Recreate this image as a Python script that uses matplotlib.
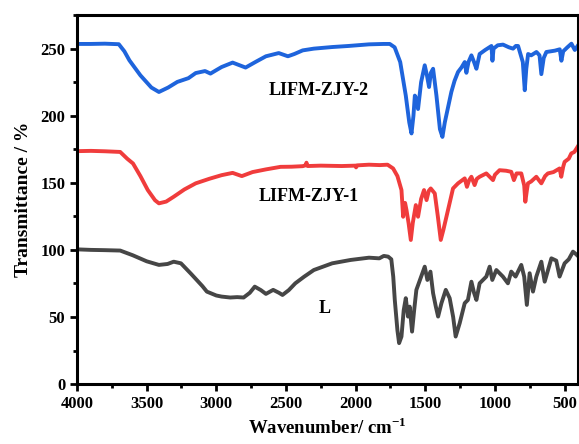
import matplotlib
matplotlib.use("Agg")
import matplotlib.pyplot as plt
from matplotlib.ticker import MultipleLocator

plt.rcParams['font.family'] = ['Liberation Serif', 'DejaVu Serif']
plt.rcParams['font.weight'] = 'bold'
plt.rcParams['mathtext.fontset'] = 'custom'
plt.rcParams['mathtext.rm'] = 'Liberation Serif:bold'
plt.rcParams['mathtext.bf'] = 'Liberation Serif:bold'

# ---- data: LIFM-ZJY-2 (blue) ----
w_zjy2 = [4000, 3900, 3800, 3700, 3660, 3624, 3545, 3466, 3412, 3346, 3280, 3200, 3148, 3081, 3042,
          3000, 2962, 2883, 2790, 2720, 2644, 2552, 2486, 2440, 2380, 2300, 2168, 2050, 1904, 1800,
          1755, 1720, 1680, 1640, 1615, 1599, 1585, 1575, 1562, 1552, 1530, 1504, 1488, 1473, 1460,
          1444, 1420, 1395, 1377, 1360, 1313, 1290, 1265, 1240, 1217, 1205, 1190, 1169, 1150, 1133,
          1110, 1070, 1040, 1025, 1018, 1010, 980, 942, 900, 870, 850, 834, 800, 786, 775, 762, 740,
          702, 680, 667, 650, 631, 600, 570, 535, 523, 510, 480, 451, 427, 400]
t_zjy2 = [253.5, 253.5, 253.7, 253.3, 248, 241.3, 230.1, 221, 217.7, 221, 225.2, 228, 231.8, 233.3, 231.4,
          234, 236.3, 239.6, 235.9, 240, 244.3, 246.7, 244.3, 246, 248.7, 250, 251.2, 252, 253.2, 253.5,
          253.5, 251, 240, 215, 195, 186.8, 200, 215, 212, 205, 225, 237.6, 230, 221.4, 232,
          235, 215, 190, 184.2, 195, 217.7, 226, 232.6, 236, 240, 232, 240, 245, 240, 235,
          246, 249, 251, 252, 241, 250, 252.5, 253, 251, 250, 252, 252, 240, 219, 235, 246, 245,
          247.5, 245, 231, 243, 247.5, 248, 248.5, 249.5, 241, 248, 251, 253.7, 249, 253]

# ---- data: LIFM-ZJY-1 (red) ----
w_zjy1 = [4000, 3900, 3800, 3690, 3640, 3598, 3545, 3492, 3440, 3412, 3360, 3306, 3230, 3148, 3050,
          2962, 2883, 2817, 2740, 2644, 2539, 2460, 2380, 2360, 2353, 2345, 2250, 2100, 2000, 1997,
          1990, 1904, 1827, 1771, 1731, 1700, 1671, 1659, 1645, 1635, 1620, 1604, 1590, 1568, 1552,
          1530, 1509, 1491, 1475, 1461, 1432, 1410, 1389, 1370, 1337, 1301, 1265, 1217, 1201, 1185,
          1169, 1146, 1130, 1110, 1062, 1014, 1000, 967, 920, 883, 864, 845, 811, 790, 782, 770,
          763, 740, 703, 685, 667, 640, 620, 580, 536, 524, 510, 500, 470, 452, 430, 400]
t_zjy1 = [173.6, 173.8, 173.5, 173, 168, 164.4, 155, 144.6, 137, 134.7, 136, 139.6, 145, 149.6, 153,
          155.7, 157.4, 155, 158, 160, 161.9, 162, 162.4, 163, 165, 162.5, 162.8, 162.5, 162.8, 161.5,
          163, 163.5, 163.2, 163.5, 160.7, 155, 144.6, 124.7, 135, 129.7, 120, 107.4, 120, 133.4, 124.7,
          138, 144.6, 137.1, 144, 145.8, 142.1, 125, 107.4, 115, 129.7, 145.8, 149.6, 153.3, 147, 152,
          154.5, 148.3, 153, 154.5, 157, 152, 156, 159.4, 159, 158.2, 152, 157, 157, 148, 135.9, 145,
          149.6, 151, 154.5, 152, 149.6, 155, 157, 158, 160.7, 154.5, 162, 165.6, 168, 171.9, 173, 178]

# ---- data: L (dark grey) ----
w_l = [4000, 3900, 3800, 3690, 3600, 3500, 3412, 3350, 3306, 3254, 3180, 3100, 3068, 3000, 2962,
       2900, 2850, 2804, 2760, 2724, 2680, 2644, 2592, 2550, 2525, 2480, 2433, 2370, 2300, 2168,
       2036, 1904, 1830, 1798, 1767, 1744, 1730, 1719, 1700, 1688, 1671, 1655, 1640, 1624, 1612,
       1595, 1580, 1564, 1530, 1504, 1485, 1463, 1444, 1425, 1408, 1384, 1353, 1325, 1300, 1282,
       1253, 1217, 1194, 1169, 1150, 1133, 1110, 1062, 1038, 1019, 990, 943, 907, 883, 852, 811,
       790, 771, 751, 727, 703, 667, 643, 595, 560, 536, 500, 470, 440, 420, 400]
t_l = [100.4, 100, 99.8, 99.5, 96, 91.5, 88.8, 89.5, 91.2, 90, 82, 73, 68.9, 66, 65.2,
       64.5, 64.8, 64.5, 68, 72.6, 70, 67.2, 70.2, 68, 66.4, 70, 75.1, 80, 85, 90,
       92.5, 94.2, 93.7, 95.5, 95, 93, 80, 62.7, 40, 30.5, 35.4, 55, 64, 50.3, 57.7,
       39.1, 55, 70.2, 80, 87.5, 77.6, 83.8, 67.7, 58, 50.3, 60.3, 70.2, 64, 50, 35.4,
       45.4, 60.3, 62.7, 76.3, 68, 62.7, 75.1, 80.1, 87.5, 77.6, 85, 80.1, 75.1, 83.8, 80.1, 88.8,
       80, 59, 82.6, 68.9, 80.1, 91.2, 76.3, 93.7, 92, 80.1, 90, 93, 98.7, 97, 95]

labels = ['LIFM-ZJY-2', 'LIFM-ZJY-1', 'L']
x_ticks = [4000, 3500, 3000, 2500, 2000, 1500, 1000, 500]
y_ticks = [0, 50, 100, 150, 200, 250]

fig = plt.figure(figsize=(5.79, 4.44), dpi=100)
ax = fig.add_axes([0.133, 0.135, 0.865, 0.831])

lw = 2.8
ax.plot(w_zjy2, t_zjy2, color='#1e64dc', lw=lw, solid_joinstyle='round')
ax.plot(w_zjy1, t_zjy1, color='#f03c3c', lw=lw, solid_joinstyle='round')
ax.plot(w_l, t_l, color='#464646', lw=lw, solid_joinstyle='round')

ax.text(2264, 219, labels[0], ha='center', va='center', fontsize=13, fontweight='bold')
ax.text(2335, 139.6, labels[1], ha='center', va='center', fontsize=13, fontweight='bold')
ax.text(2221, 56.5, labels[2], ha='center', va='center', fontsize=13, fontweight='bold')

ax.set_xlim(4000, 405)
ax.set_ylim(0, 275)
ax.set_xticks(x_ticks)
ax.set_yticks(y_ticks)
ax.xaxis.set_minor_locator(MultipleLocator(250))
ax.yaxis.set_minor_locator(MultipleLocator(25))
ax.tick_params(which='major', direction='out', length=5, width=2, labelsize=12)
ax.tick_params(which='minor', direction='out', length=3, width=2)
for lab in ax.get_xticklabels() + ax.get_yticklabels():
    lab.set_fontweight('bold')
for s in ax.spines.values():
    s.set_linewidth(2.2)

ax.set_xlabel(r'Wavenumber/ cm$^{-1}$', fontsize=13.5, fontweight='bold', labelpad=4)
ax.set_ylabel('Transmittance / %', fontsize=14, fontweight='bold', labelpad=6)

fig.savefig('out.png', dpi=100)
